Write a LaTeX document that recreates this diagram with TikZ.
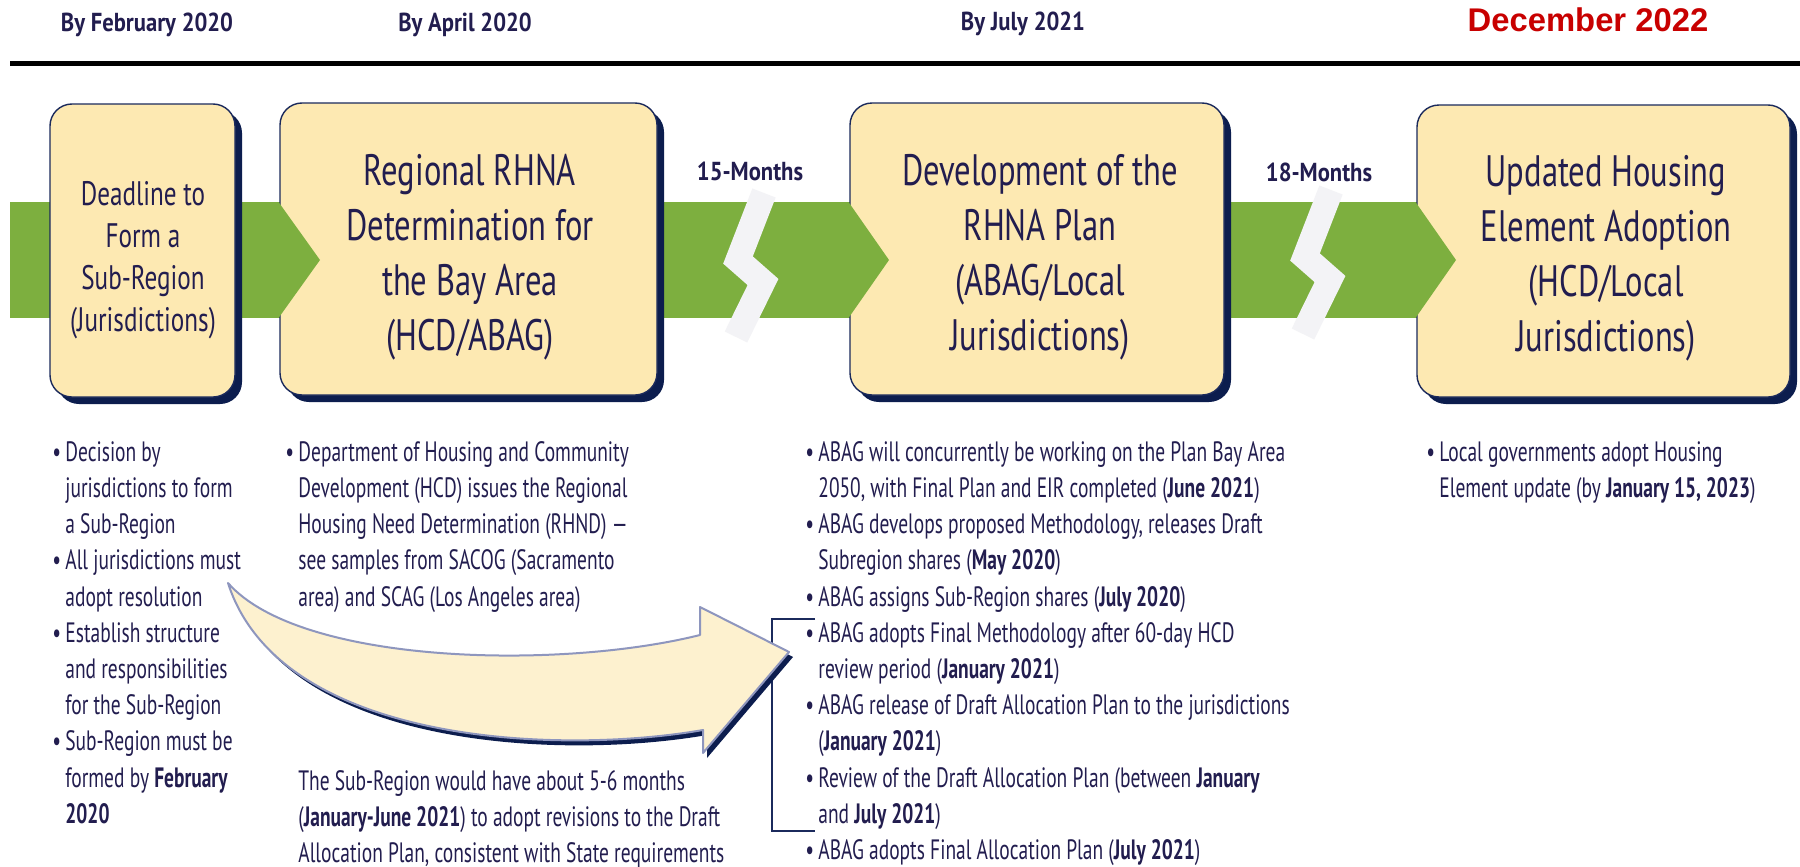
\documentclass[tikz,border=0pt]{standalone}
\usepackage{fontspec}
\setmainfont{PT Sans}[FakeStretch=0.695]
\newfontfamily\hfont{PT Sans}[FakeStretch=0.74]
\newfontfamily\dfont{PT Sans}[FakeStretch=0.87]
\newfontfamily\rfont{Liberation Sans}
\usetikzlibrary{shadows}
\definecolor{navy}{HTML}{221D4F}
\definecolor{boxline}{HTML}{1B2A5C}
\definecolor{shadowc}{HTML}{0C1D4E}
\definecolor{boxfill}{HTML}{FDE9B2}
\definecolor{green1}{HTML}{7DAF3F}
\definecolor{zig}{HTML}{F3F3F6}
\definecolor{arrowfill}{HTML}{FDF1CF}
\definecolor{arrowline}{HTML}{8E96BE}
\definecolor{red1}{HTML}{C80000}
\newcommand{\bul}{\makebox[6.5pt][l]{\textbullet}}
\newcommand{\ind}{\hspace*{6.5pt}}
\newcommand{\curvedarrowpath}{(228,583) .. controls (300,665) and (560,670) .. (700,635) -- (700,607) -- (789,652) -- (703,753) -- (703,730) .. controls (560,755) and (280,745) .. (228,583) -- cycle}
\begin{document}
\begin{tikzpicture}[x=0.5pt,y=-0.5pt,
  stepbox/.style={draw=boxline, line width=0.7pt, fill=boxfill, rounded corners=11pt, inner sep=0pt,
    drop shadow={shadow xshift=3.5pt, shadow yshift=-3.5pt, fill=shadowc, opacity=1}},
  bigtitle/.style={font=\hfont\fontsize{22}{27.5}\selectfont, text=navy, align=center, inner sep=0pt},
  smalltitle/.style={font=\hfont\fontsize{17}{21}\selectfont, text=navy, align=center, inner sep=0pt},
  datehead/.style={font=\dfont\bfseries\fontsize{13}{15}\selectfont, text=navy, anchor=base, inner sep=0pt},
  bullets/.style={font=\fontsize{14}{18.1}\selectfont, text=navy, align=left, anchor=north west, inner sep=0pt},
  zigzag/.style={draw=zig, line width=12.5pt, line join=miter}
]
\useasboundingbox (0,0) rectangle (1800,867);
\fill[white] (0,0) rectangle (1800,867);

% date headers
\node[datehead] (h1) at (147,32) {By February 2020};
\node[datehead] (h2) at (465,32) {By April 2020};
\node[datehead] (h3) at (1023,31) {By July 2021};
\node[anchor=base, inner sep=0pt, text=red1, font=\rfont\bfseries\fontsize{16.4}{18}\selectfont] (h4) at (1588,32) {December 2022};

% rule
\draw[line width=2.5pt, black] (10,63.5) -- (1800,63.5);

% green band
\fill[green1] (10,202) rectangle (1420,318);

% boxes
\node[stepbox, minimum width=92.5pt, minimum height=146.5pt] (b1) at (142.5,250.5) {};
\node[stepbox, minimum width=188.5pt, minimum height=146pt] (b2) at (468.5,249) {};
\node[stepbox, minimum width=187pt, minimum height=146pt] (b3) at (1037,249) {};
\node[stepbox, minimum width=186.5pt, minimum height=146pt] (b4) at (1603.5,251) {};

% chevrons
\fill[green1] (278.5,202) -- (320,260) -- (278.5,318) -- cycle;
\fill[green1] (848.5,202) -- (889,260) -- (848.5,318) -- cycle;
\fill[green1] (1415.5,202) -- (1456,260) -- (1415.5,318) -- cycle;

% breaks
\draw[zigzag] (764,193) -- (738,260) -- (763,282) -- (736,337);
\draw[zigzag] (1331,190) -- (1305,257) -- (1330,279) -- (1303,334);
\node[datehead] (m1) at (750,180) {15-Months};
\node[datehead] (m2) at (1319,181) {18-Months};

% box titles
\node[smalltitle] (t1) at (143,260) {Deadline to\\Form a\\Sub-Region\\(Jurisdictions)};
\node[bigtitle] (t2) at (470,257) {Regional RHNA\\Determination for\\the Bay Area\\(HCD/ABAG)};
\node[bigtitle] (t3) at (1040,257) {Development of the\\RHNA Plan\\(ABAG/Local\\Jurisdictions)};
\node[bigtitle] (t4) at (1606,258) {Updated Housing\\Element Adoption\\(HCD/Local\\Jurisdictions)};

% bullet columns
\node[bullets] (c1) at (52,441) {\bul Decision by\\
\ind jurisdictions to form\\
\ind a Sub-Region\\
\bul All jurisdictions must\\
\ind adopt resolution\\
\bul Establish structure\\
\ind and responsibilities\\
\ind for the Sub-Region\\
\bul Sub-Region must be\\
\ind formed by \textbf{February}\\
\ind \textbf{2020}};

\node[bullets] (c2) at (285,441) {\bul Department of Housing and Community\\
\ind Development (HCD) issues the Regional\\
\ind Housing Need Determination (RHND) —\\
\ind see samples from SACOG (Sacramento\\
\ind area) and SCAG (Los Angeles area)};

\node[bullets] (p2) at (298,770) {The Sub-Region would have about 5-6 months\\
(\textbf{January-June 2021}) to adopt revisions to the Draft\\
Allocation Plan, consistent with State requirements};

\node[bullets] (c3) at (805,441) {\bul ABAG will concurrently be working on the Plan Bay Area\\
\ind 2050, with Final Plan and EIR completed (\textbf{June 2021})\\
\bul ABAG develops proposed Methodology, releases Draft\\
\ind Subregion shares (\textbf{May 2020})\\
\bul ABAG assigns Sub-Region shares (\textbf{July 2020})\\
\bul ABAG adopts Final Methodology after 60-day HCD\\
\ind review period (\textbf{January 2021})\\
\bul ABAG release of Draft Allocation Plan to the jurisdictions\\
\ind (\textbf{January 2021})\\
\bul Review of the Draft Allocation Plan (between \textbf{January}\\
\ind and \textbf{July 2021})\\
\bul ABAG adopts Final Allocation Plan (\textbf{July 2021})};

\node[bullets] (c4) at (1426,441) {\bul Local governments adopt Housing\\
\ind Element update (by \textbf{January 15, 2023})};

% bracket
\draw[boxline, line width=1.1pt] (815,619) -- (772,619) -- (772,831) -- (815,831);

% curved arrow
\fill[shadowc, shift={(4,5)}] \curvedarrowpath;
\path[fill=arrowfill, draw=arrowline, line width=1pt, line join=round] \curvedarrowpath;
\end{tikzpicture}
\end{document}
